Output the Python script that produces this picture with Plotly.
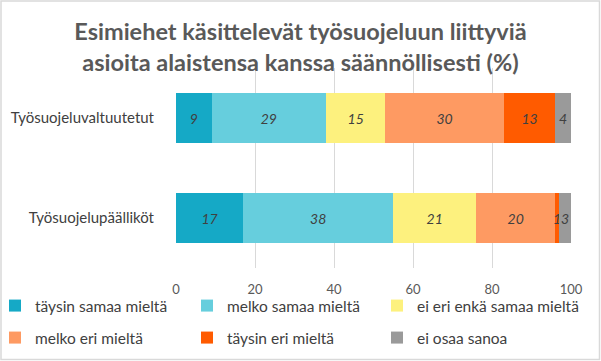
import plotly.graph_objects as go

categories = ["Työsuojeluvaltuutetut", "Työsuojelupäälliköt"]
series_names = ["täysin samaa mieltä", "melko samaa mieltä", "ei eri enkä samaa mieltä",
                "melko eri mieltä", "täysin eri mieltä", "ei osaa sanoa"]
v_taysin_samaa = [9, 17]
v_melko_samaa = [29, 38]
v_ei_eri = [15, 21]
v_melko_eri = [30, 20]
v_taysin_eri = [13, 1]
v_ei_osaa = [4, 3]
series_values = [v_taysin_samaa, v_melko_samaa, v_ei_eri, v_melko_eri, v_taysin_eri, v_ei_osaa]
colors = ["#15A9C6", "#66CEDD", "#FDF17E", "#FE9A62", "#FF5B00", "#9A9A9A"]
x_ticks = [0, 20, 40, 60, 80, 100]

FONT = "Lato"
W, H = 601, 361
L, R, T, B = 176, 30, 68, 93
PW, PH = W - L - R, H - T - B

def px_x(p):
    return (p - L) / PW

def px_y(p):
    return (H - B - p) / PH

# legend text start positions (px) and row centres (px)
leg_x = [35, 227, 417, 35, 227, 417]
leg_y = [306, 306, 306, 338, 338, 338]
LEG_OFFSET = 40

fig = go.Figure()
legends = {}
for i, (name, vals, col) in enumerate(zip(series_names, series_values, colors)):
    lname = "legend" if i == 0 else f"legend{i + 1}"
    fig.add_trace(go.Bar(
        y=categories, x=vals, name=name, orientation="h",
        marker=dict(color=col, line=dict(width=0)),
        text=[str(v) for v in vals], textposition="inside",
        insidetextanchor="middle", constraintext="none",
        textfont=dict(family=FONT, size=14, color="#404040", style="italic"),
        legend=lname,
        hoverinfo="skip",
    ))
    legends[lname] = dict(orientation="h", font=dict(family=FONT, size=15.5, color="#404040"),
                          bgcolor="rgba(0,0,0,0)", itemwidth=30,
                          x=px_x(leg_x[i] - LEG_OFFSET), y=px_y(leg_y[i]),
                          xanchor="left", yanchor="middle")

fig.update_layout(
    width=W, height=H,
    margin=dict(l=L, r=R, t=T, b=B, pad=0, autoexpand=False),
    paper_bgcolor="white", plot_bgcolor="white",
    barmode="stack", bargap=0.5,
    uniformtext=dict(minsize=13, mode="show"),
    title=dict(text="Esimiehet käsittelevät työsuojeluun liittyviä<br>asioita alaistensa kanssa säännöllisesti (%)",
               x=0.5, xref="container", xanchor="center",
               y=1 - 40 / H, yref="container", yanchor="top",
               font=dict(family=FONT, size=23.5, color="#595959", weight="bold")),
    xaxis=dict(range=[0, 100], tickvals=x_ticks, showgrid=True, gridcolor="#D9D9D9", gridwidth=1,
               zeroline=False, showline=False, ticks="outside", ticklen=9,
               tickcolor="rgba(0,0,0,0)",
               tickfont=dict(family=FONT, size=13, color="#595959")),
    yaxis=dict(autorange="reversed", showgrid=False, zeroline=False, showline=False,
               ticks="outside", ticklen=18, tickcolor="rgba(0,0,0,0)",
               tickfont=dict(family=FONT, size=15, color="#404040")),
    showlegend=True,
    shapes=[dict(type="rect", xref="paper", yref="paper",
                 x0=px_x(1), x1=px_x(599.5), y0=px_y(359.5), y1=px_y(1),
                 line=dict(color="#D9D9D9", width=1.5), fillcolor="rgba(0,0,0,0)", layer="below")],
    **legends,
)

fig.write_html("out.html", config={"displayModeBar": False},
               post_script="document.body.style.margin='0';")
